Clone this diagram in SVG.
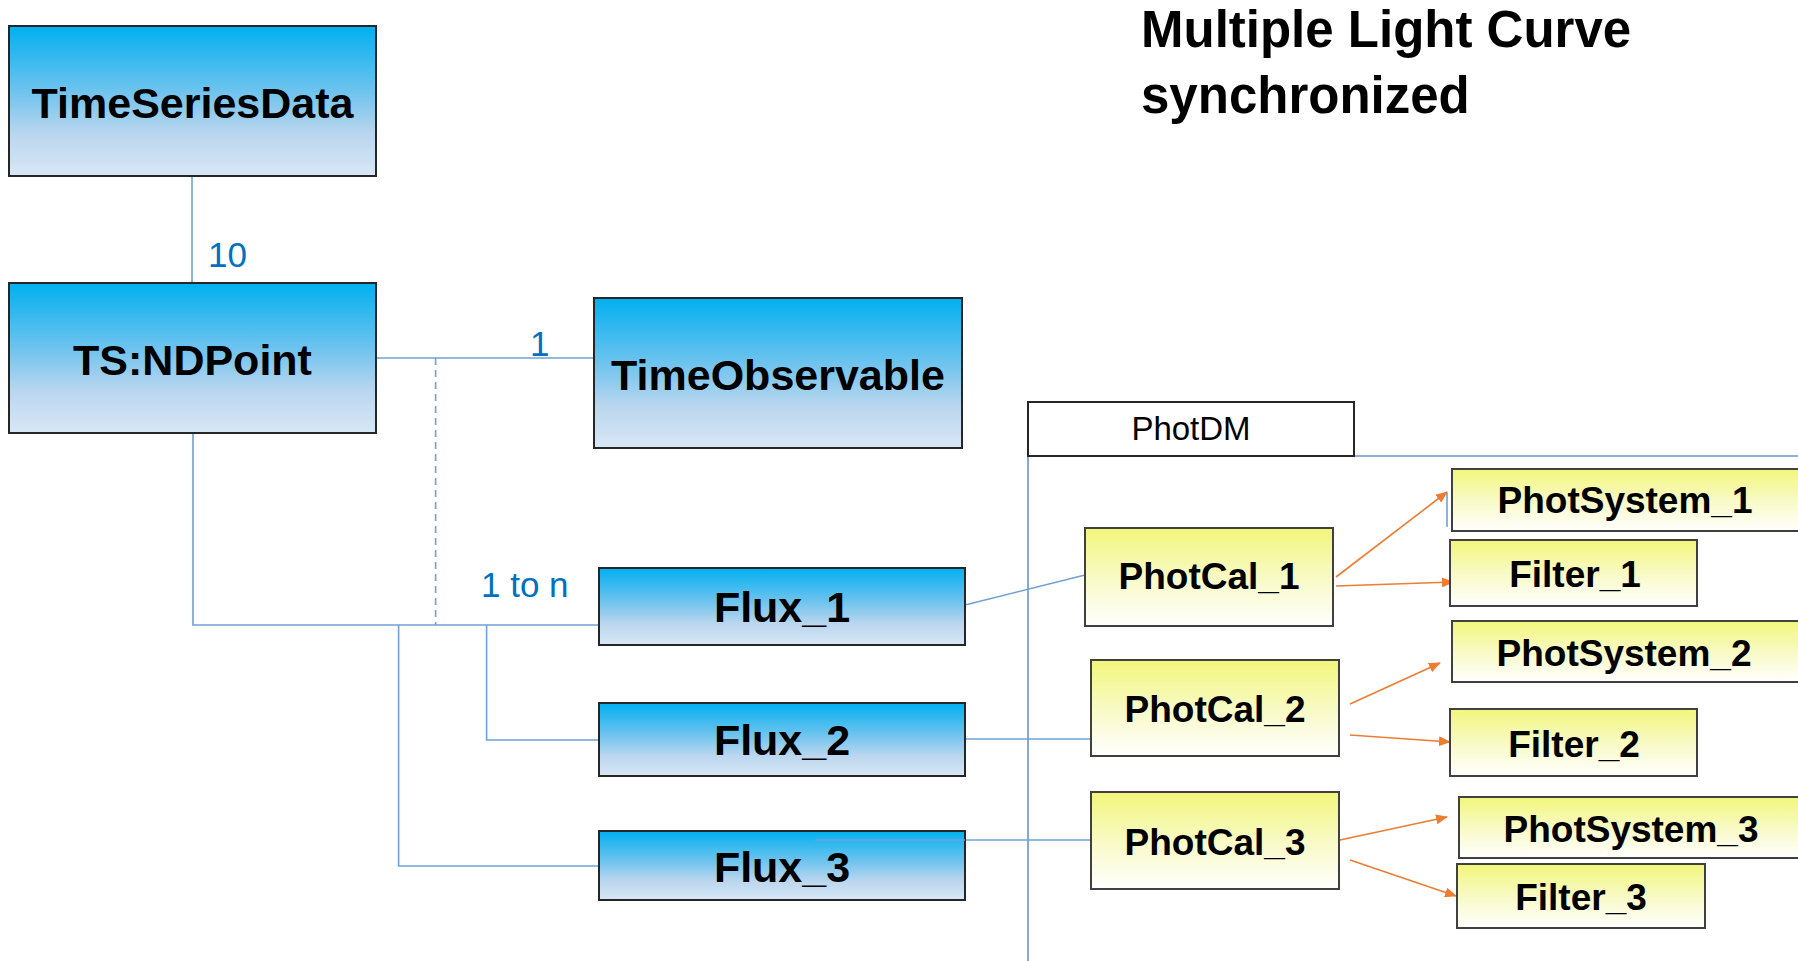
<svg xmlns="http://www.w3.org/2000/svg" width="1798" height="961" viewBox="0 0 1798 961">
<style>
.bx{stroke:#262626;stroke-width:2;fill:url(#gb)}
.yb{stroke:#404040;stroke-width:2;fill:url(#gy)}
.lb{font-family:"Liberation Sans",Arial,sans-serif;font-weight:bold;fill:#000;text-anchor:middle}
.big{font-size:43px}
.sm{font-size:37px}
.cn{fill:none;stroke:#6FA0D8;stroke-width:1.6}
.ar{fill:none;stroke:#ED7D31;stroke-width:1.6;marker-end:url(#ah)}
.ml{font-family:"Liberation Sans",Arial,sans-serif;font-size:35px;fill:#0070C0}
.ti{font-family:"Liberation Sans",Arial,sans-serif;font-weight:bold;font-size:51px;fill:#000}
</style>
<defs>
<linearGradient id="gb" x1="0" y1="0" x2="0" y2="1">
<stop offset="0" stop-color="#00B0F0"/>
<stop offset="0.45" stop-color="#72C4EE"/>
<stop offset="0.72" stop-color="#BAD6EE"/>
<stop offset="1" stop-color="#D8E7F6"/>
</linearGradient>
<linearGradient id="gy" x1="0" y1="0" x2="0" y2="1">
<stop offset="0" stop-color="#F2F67A"/>
<stop offset="0.5" stop-color="#F8FAC4"/>
<stop offset="1" stop-color="#FFFFFF"/>
</linearGradient>
<marker id="ah" markerWidth="12" markerHeight="10" refX="11" refY="5" orient="auto" markerUnits="userSpaceOnUse">
<path d="M0,0 L12,5 L0,10 Z" fill="#ED7D31"/>
</marker>
</defs>
<rect width="1798" height="961" fill="#fff"/>

<g id="title">
<text class="ti" x="1141" y="47">Multiple Light Curve</text>
<text class="ti" x="1141" y="113">synchronized</text>
</g>

<g id="photdm">
<path d="M1028,456 V965 M1354,456 H1800" fill="none" stroke="#6C93C6" stroke-width="1.6"/>
<rect x="1028" y="402" width="326" height="54" fill="#fff" stroke="#262626" stroke-width="2"/>
<text x="1191" y="440" font-family="'Liberation Sans',Arial,sans-serif" font-size="33" text-anchor="middle" fill="#000">PhotDM</text>
</g>

<g id="connectors">
<path class="cn" d="M192,176 V283"/>
<path class="cn" d="M376,358 H594"/>
<path class="cn" d="M435.6,358 V625" stroke-dasharray="7,5"/>
<path class="cn" d="M193,433 V625 H599"/>
<path class="cn" d="M486.6,625 V740 H599"/>
<path class="cn" d="M398.6,625 V866 H599"/>
<path class="cn" d="M965,605 L1085,575"/>
<path class="cn" d="M965,739 H1091"/>
<path class="cn" d="M815,840 H1091"/>
<path class="cn" d="M1447,493 V527"/>
<path class="ar" d="M1336,577 L1447,492"/>
<path class="ar" d="M1336,586 L1453,582"/>
<path class="ar" d="M1350,704 L1440,663"/>
<path class="ar" d="M1350,735 L1450,742"/>
<path class="ar" d="M1340,840 L1447,817"/>
<path class="ar" d="M1350,860 L1456,896"/>
<text class="ml" x="208" y="267">10</text>
<text class="ml" x="530" y="356">1</text>
<text class="ml" x="481" y="597">1 to n</text>
</g>

<g id="TimeSeriesData">
<rect class="bx" x="9" y="26" width="367" height="150"/>
<text class="lb big" x="192.5" y="118">TimeSeriesData</text>
</g>
<g id="TSNDPoint">
<rect class="bx" x="9" y="283" width="367" height="150"/>
<text class="lb big" x="192.5" y="375">TS:NDPoint</text>
</g>
<g id="TimeObservable">
<rect class="bx" x="594" y="298" width="368" height="150"/>
<text class="lb big" x="778" y="390">TimeObservable</text>
</g>
<g id="Flux_1">
<rect class="bx" x="599" y="568" width="366" height="77"/>
<text class="lb big" x="782" y="622">Flux_1</text>
</g>
<g id="Flux_2">
<rect class="bx" x="599" y="703" width="366" height="73"/>
<text class="lb big" x="782" y="755">Flux_2</text>
</g>
<g id="Flux_3">
<rect class="bx" x="599" y="831" width="366" height="69"/>
<text class="lb big" x="782" y="882">Flux_3</text>
</g>
<path d="M815,840 H965" class="cn"/>

<g id="PhotCal_1">
<rect class="yb" x="1085" y="528" width="248" height="98"/>
<text class="lb sm" x="1209" y="589">PhotCal_1</text>
</g>
<g id="PhotCal_2">
<rect class="yb" x="1091" y="660" width="248" height="96"/>
<text class="lb sm" x="1215" y="722">PhotCal_2</text>
</g>
<g id="PhotCal_3">
<rect class="yb" x="1091" y="792" width="248" height="97"/>
<text class="lb sm" x="1215" y="855">PhotCal_3</text>
</g>
<g id="PhotSystem_1">
<rect class="yb" x="1452" y="469" width="360" height="62"/>
<text class="lb sm" x="1625" y="513">PhotSystem_1</text>
</g>
<g id="Filter_1">
<rect class="yb" x="1450" y="540" width="247" height="66"/>
<text class="lb sm" x="1575" y="587">Filter_1</text>
</g>
<g id="PhotSystem_2">
<rect class="yb" x="1452" y="621" width="360" height="61"/>
<text class="lb sm" x="1624" y="666">PhotSystem_2</text>
</g>
<g id="Filter_2">
<rect class="yb" x="1450" y="709" width="247" height="67"/>
<text class="lb sm" x="1574" y="757">Filter_2</text>
</g>
<g id="PhotSystem_3">
<rect class="yb" x="1459" y="797" width="360" height="61"/>
<text class="lb sm" x="1631" y="842">PhotSystem_3</text>
</g>
<g id="Filter_3">
<rect class="yb" x="1457" y="864" width="248" height="64"/>
<text class="lb sm" x="1581" y="910">Filter_3</text>
</g>
</svg>
